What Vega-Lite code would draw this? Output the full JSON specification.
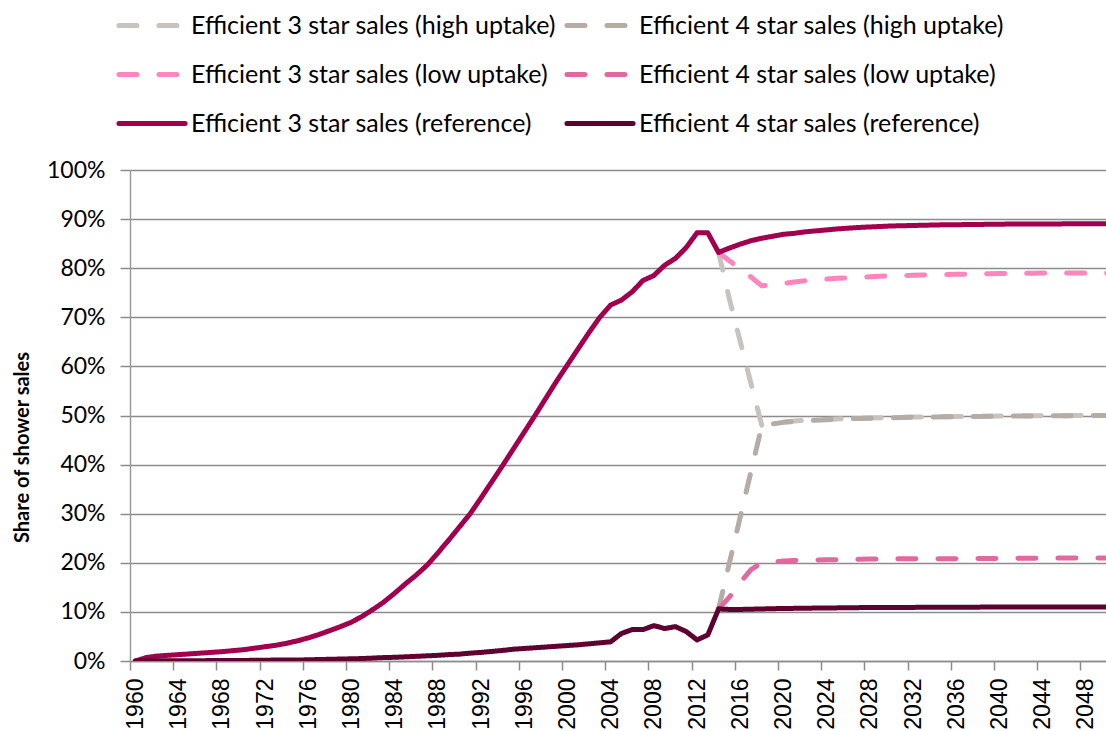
{
  "$schema": "https://vega.github.io/schema/vega-lite/v6.json",
  "autosize": {"type": "none"},
  "width": 976,
  "height": 491,
  "padding": {"left": 130, "top": 170, "right": 0, "bottom": 70},
  "background": "white",
  "config": {"view": {"stroke": null}},
  "data": {"values": [
    {"year":1960,"r3":0,"r4":0},
    {"year":1961,"r3":0.7,"r4":0.05},
    {"year":1962,"r3":1.0,"r4":0.05},
    {"year":1963,"r3":1.15,"r4":0.05},
    {"year":1964,"r3":1.3,"r4":0.05},
    {"year":1965,"r3":1.45,"r4":0.05},
    {"year":1966,"r3":1.6,"r4":0.05},
    {"year":1967,"r3":1.75,"r4":0.1},
    {"year":1968,"r3":1.9,"r4":0.1},
    {"year":1969,"r3":2.1,"r4":0.1},
    {"year":1970,"r3":2.3,"r4":0.1},
    {"year":1971,"r3":2.6,"r4":0.15},
    {"year":1972,"r3":2.9,"r4":0.15},
    {"year":1973,"r3":3.2,"r4":0.2},
    {"year":1974,"r3":3.6,"r4":0.2},
    {"year":1975,"r3":4.1,"r4":0.2},
    {"year":1976,"r3":4.7,"r4":0.25},
    {"year":1977,"r3":5.4,"r4":0.3},
    {"year":1978,"r3":6.2,"r4":0.35},
    {"year":1979,"r3":7.0,"r4":0.4},
    {"year":1980,"r3":7.9,"r4":0.45},
    {"year":1981,"r3":9.1,"r4":0.5},
    {"year":1982,"r3":10.5,"r4":0.6},
    {"year":1983,"r3":12.0,"r4":0.7},
    {"year":1984,"r3":13.8,"r4":0.75},
    {"year":1985,"r3":15.7,"r4":0.85},
    {"year":1986,"r3":17.5,"r4":0.95},
    {"year":1987,"r3":19.5,"r4":1.05},
    {"year":1988,"r3":22.0,"r4":1.15},
    {"year":1989,"r3":24.6,"r4":1.3},
    {"year":1990,"r3":27.3,"r4":1.4},
    {"year":1991,"r3":30.0,"r4":1.6},
    {"year":1992,"r3":33.2,"r4":1.75},
    {"year":1993,"r3":36.5,"r4":1.95},
    {"year":1994,"r3":39.8,"r4":2.15},
    {"year":1995,"r3":43.2,"r4":2.4},
    {"year":1996,"r3":46.6,"r4":2.55},
    {"year":1997,"r3":50.0,"r4":2.7},
    {"year":1998,"r3":53.5,"r4":2.85},
    {"year":1999,"r3":57.0,"r4":3.0},
    {"year":2000,"r3":60.3,"r4":3.15},
    {"year":2001,"r3":63.6,"r4":3.3},
    {"year":2002,"r3":66.9,"r4":3.5},
    {"year":2003,"r3":70.0,"r4":3.7},
    {"year":2004,"r3":72.5,"r4":3.9},
    {"year":2005,"r3":73.5,"r4":5.6},
    {"year":2006,"r3":75.2,"r4":6.4},
    {"year":2007,"r3":77.5,"r4":6.4},
    {"year":2008,"r3":78.5,"r4":7.2},
    {"year":2009,"r3":80.6,"r4":6.6},
    {"year":2010,"r3":82.0,"r4":7.0},
    {"year":2011,"r3":84.2,"r4":6.0},
    {"year":2012,"r3":87.2,"r4":4.3},
    {"year":2013,"r3":87.2,"r4":5.3},
    {"year":2014,"r3":83.2,"r4":10.6,"h3":83.2,"h4":10.6,"l3":83.2,"l4":10.6},
    {"year":2015,"r3":84.1,"r4":10.5,"h3":73.7,"h4":20.0,"l3":81.5,"l4":13.0},
    {"year":2016,"r3":84.9,"r4":10.5,"h3":65.1,"h4":29.3,"l3":79.9,"l4":16.0},
    {"year":2017,"r3":85.6,"r4":10.55,"h3":56.5,"h4":38.6,"l3":78.2,"l4":18.6},
    {"year":2018,"r3":86.1,"r4":10.6,"h3":48.0,"h4":47.9,"l3":76.4,"l4":20.0},
    {"year":2019,"r3":86.5,"r4":10.65,"h3":48.4,"h4":48.3,"l3":76.6,"l4":20.2},
    {"year":2020,"r3":86.9,"r4":10.7,"h3":48.7,"h4":48.6,"l3":76.9,"l4":20.35},
    {"year":2021,"r3":87.1,"r4":10.72,"h3":48.9,"h4":48.8,"l3":77.2,"l4":20.45},
    {"year":2022,"r3":87.4,"r4":10.75,"h3":49.0,"h4":48.95,"l3":77.45,"l4":20.5},
    {"year":2023,"r3":87.6,"r4":10.78,"h3":49.1,"h4":49.05,"l3":77.65,"l4":20.55},
    {"year":2024,"r3":87.8,"r4":10.8,"h3":49.2,"h4":49.15,"l3":77.8,"l4":20.6},
    {"year":2025,"r3":88.0,"r4":10.82,"h3":49.3,"h4":49.25,"l3":77.95,"l4":20.65},
    {"year":2026,"r3":88.15,"r4":10.85,"h3":49.4,"h4":49.35,"l3":78.05,"l4":20.7},
    {"year":2027,"r3":88.3,"r4":10.87,"h3":49.45,"h4":49.4,"l3":78.15,"l4":20.7},
    {"year":2028,"r3":88.4,"r4":10.9,"h3":49.5,"h4":49.45,"l3":78.25,"l4":20.75},
    {"year":2029,"r3":88.5,"r4":10.9,"h3":49.55,"h4":49.5,"l3":78.35,"l4":20.75},
    {"year":2030,"r3":88.6,"r4":10.9,"h3":49.6,"h4":49.55,"l3":78.45,"l4":20.8},
    {"year":2031,"r3":88.65,"r4":10.9,"h3":49.65,"h4":49.6,"l3":78.5,"l4":20.8},
    {"year":2032,"r3":88.7,"r4":10.92,"h3":49.7,"h4":49.65,"l3":78.55,"l4":20.8},
    {"year":2033,"r3":88.75,"r4":10.93,"h3":49.7,"h4":49.7,"l3":78.6,"l4":20.82},
    {"year":2034,"r3":88.8,"r4":10.94,"h3":49.75,"h4":49.7,"l3":78.65,"l4":20.83},
    {"year":2035,"r3":88.85,"r4":10.95,"h3":49.75,"h4":49.75,"l3":78.7,"l4":20.84},
    {"year":2036,"r3":88.85,"r4":10.95,"h3":49.8,"h4":49.75,"l3":78.75,"l4":20.85},
    {"year":2037,"r3":88.9,"r4":10.96,"h3":49.8,"h4":49.8,"l3":78.8,"l4":20.86},
    {"year":2038,"r3":88.9,"r4":10.97,"h3":49.85,"h4":49.8,"l3":78.85,"l4":20.87},
    {"year":2039,"r3":88.95,"r4":10.98,"h3":49.85,"h4":49.85,"l3":78.85,"l4":20.88},
    {"year":2040,"r3":88.95,"r4":11.0,"h3":49.9,"h4":49.85,"l3":78.9,"l4":20.9},
    {"year":2041,"r3":89.0,"r4":11.0,"h3":49.9,"h4":49.9,"l3":78.9,"l4":20.9},
    {"year":2042,"r3":89.0,"r4":11.0,"h3":49.92,"h4":49.9,"l3":78.95,"l4":20.92},
    {"year":2043,"r3":89.0,"r4":11.0,"h3":49.94,"h4":49.92,"l3":78.95,"l4":20.93},
    {"year":2044,"r3":89.0,"r4":11.0,"h3":49.95,"h4":49.94,"l3":79.0,"l4":20.94},
    {"year":2045,"r3":89.02,"r4":11.0,"h3":49.96,"h4":49.95,"l3":79.0,"l4":20.95},
    {"year":2046,"r3":89.03,"r4":11.0,"h3":49.97,"h4":49.96,"l3":79.0,"l4":20.96},
    {"year":2047,"r3":89.04,"r4":11.0,"h3":49.98,"h4":49.97,"l3":79.0,"l4":20.97},
    {"year":2048,"r3":89.05,"r4":11.0,"h3":49.99,"h4":49.98,"l3":79.0,"l4":20.98},
    {"year":2049,"r3":89.05,"r4":11.0,"h3":50.0,"h4":49.99,"l3":79.0,"l4":20.99},
    {"year":2050,"r3":89.05,"r4":11.0,"h3":50.0,"h4":50.0,"l3":79.0,"l4":21.0}
  ]},
  "transform": [
    {"fold": ["h3", "h4", "l3", "l4", "r3", "r4"], "as": ["series", "value"]}
  ],
  "mark": {"type": "line", "strokeWidth": 5, "strokeCap": "round", "strokeJoin": "round", "clip": true},
  "encoding": {
    "x": {
      "field": "year", "type": "quantitative",
      "scale": {"domain": [1959.5, 2049.87], "nice": false, "zero": false},
      "axis": {
        "title": null,
        "values": [1960,1964,1968,1972,1976,1980,1984,1988,1992,1996,2000,2004,2008,2012,2016,2020,2024,2028,2032,2036,2040,2044,2048],
        "format": "d",
        "grid": false,
        "domain": true, "domainColor": "#8c8c8c", "domainWidth": 1.5,
        "ticks": true, "tickColor": "#8c8c8c", "tickWidth": 1.5, "tickSize": 9,
        "tickOffset": -5.4, "labelOffset": 5.4,
        "labelAngle": 270, "labelAlign": "right", "labelBaseline": "middle",
        "labelPadding": 8,
        "labelFont": "Liberation Sans", "labelFontSize": 23, "labelColor": "#000000",
        "labelOverlap": false, "labelFlush": false, "labelBound": false
      }
    },
    "y": {
      "field": "value", "type": "quantitative",
      "scale": {"domain": [0, 100], "nice": false},
      "axis": {
        "title": "Share of shower sales",
        "titleFont": "Lato", "titleFontSize": 20, "titleFontWeight": "bold", "titleColor": "#000000",
        "titleAngle": 270, "titleAlign": "center", "titleBaseline": "middle",
        "titleX": -107.5, "titleY": 277,
        "values": [0,10,20,30,40,50,60,70,80,90,100],
        "labelExpr": "datum.value + '%'",
        "labelFont": "Lato", "labelFontSize": 23, "labelColor": "#000000",
        "labelPadding": 15,
        "grid": true, "gridColor": "#8c8c8c", "gridWidth": 1.5,
        "domain": true, "domainColor": "#9a9a9a", "domainWidth": 1.5,
        "ticks": true, "tickColor": "#8c8c8c", "tickWidth": 1.5, "tickSize": 10
      }
    },
    "color": {
      "field": "series", "type": "nominal",
      "scale": {
        "domain": ["h3", "l3", "r3", "h4", "l4", "r4"],
        "range": ["#C9C3BE", "#FF85BD", "#A0004E", "#B4ACA5", "#E06AA0", "#5E0030"]
      },
      "legend": {
        "title": null,
        "orient": "none", "legendX": -3.75, "legendY": -171.5,
        "columns": 2, "columnPadding": 0, "rowPadding": 9, "padding": 0,
        "symbolType": "M-1.4,0H1.3", "symbolSize": 2401, "symbolStrokeWidth": 5,
        "labelFont": "Lato", "labelFontSize": 25, "labelColor": "#000000",
        "labelOffset": 10.75, "labelLimit": 800,
        "labelExpr": "datum.label == 'h3' ? 'Efficient 3 star sales (high uptake)' : datum.label == 'h4' ? 'Efficient 4 star sales (high uptake)' : datum.label == 'l3' ? 'Efficient 3 star sales (low uptake)' : datum.label == 'l4' ? 'Efficient 4 star sales (low uptake)' : datum.label == 'r3' ? 'Efficient 3 star sales (reference)' : 'Efficient 4 star sales (reference)'",
        "encode": {"symbols": {"update": {"strokeCap": {"value": "round"}}}}
      }
    },
    "strokeDash": {
      "field": "series", "type": "nominal",
      "scale": {
        "domain": ["h3", "l3", "r3", "h4", "l4", "r4"],
        "range": [[18, 22], [18, 22], [1, 0], [18, 22], [18, 22], [1, 0]]
      },
      "legend": null
    }
  }
}
